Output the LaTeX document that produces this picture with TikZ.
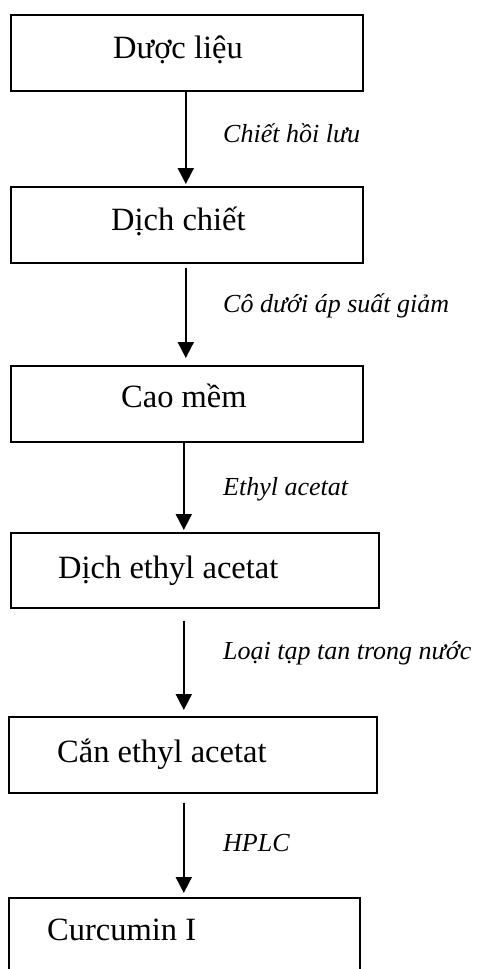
\documentclass[tikz,border=0pt]{standalone}
\usepackage{fontspec}
\setmainfont{Liberation Serif}
\usetikzlibrary{arrows.meta}
\begin{document}
\begin{tikzpicture}[x=1pt,y=-1pt,
  box/.style={draw, line width=1.6pt, rectangle, inner sep=0pt, anchor=north west},
  boxtext/.style={anchor=base west, inner sep=0pt, font=\fontsize{32.5}{37}\selectfont},
  steplabel/.style={anchor=base west, inner sep=0pt, font=\fontsize{26}{31}\selectfont\itshape},
  arr/.style={line width=1.8pt, -{Triangle[length=16pt,width=16pt]}}]
\clip (0,0) rectangle (481,969);
\fill[white] (0,0) rectangle (481,969);
% boxes
\node[box, minimum width=352pt, minimum height=76pt] (b1) at (10,14) {};
\node[box, minimum width=352pt, minimum height=76pt] (b2) at (10,186) {};
\node[box, minimum width=352pt, minimum height=76pt] (b3) at (10,365) {};
\node[box, minimum width=368pt, minimum height=75pt] (b4) at (10,532) {};
\node[box, minimum width=368pt, minimum height=76pt] (b5) at (8,716) {};
\node[box, minimum width=351pt, minimum height=80pt] (b6) at (8,897) {};
% texts
\node[boxtext] (t1) at (113,58) {Dược liệu};
\node[boxtext] (t2) at (111,230) {Dịch chiết};
\node[boxtext] (t3) at (121,407) {Cao mềm};
\node[boxtext] (t4) at (58,578) {Dịch ethyl acetat};
\node[boxtext] (t5) at (57,762) {Cắn ethyl acetat};
\node[boxtext] (t6) at (47,940) {Curcumin I};
% arrows
\draw[arr] ([xshift=-1pt]b1.south) -- ([xshift=-1pt,yshift=2pt]b2.north);
\draw[arr] ([xshift=-1pt,yshift=-4pt]b2.south) -- ([xshift=-1pt,yshift=7pt]b3.north);
\draw[arr] ([xshift=-3pt]b3.south) -- ([xshift=-11pt,yshift=2pt]b4.north);
\draw[arr] ([xshift=-11pt,yshift=-12pt]b4.south) -- ([xshift=-9pt,yshift=6pt]b5.north);
\draw[arr] ([xshift=-9pt,yshift=-9pt]b5.south) -- ([xshift=-0.5pt,yshift=4pt]b6.north);
% labels
\node[steplabel] (l1) at (223,142) {Chiết hồi lưu};
\node[steplabel] (l2) at (223,312) {Cô dưới áp suất giảm};
\node[steplabel] (l3) at (223,495) {Ethyl acetat};
\node[steplabel] (l4) at (223,659) {Loại tạp tan trong nước};
\node[steplabel] (l5) at (223,851) {HPLC};
\end{tikzpicture}
\end{document}
